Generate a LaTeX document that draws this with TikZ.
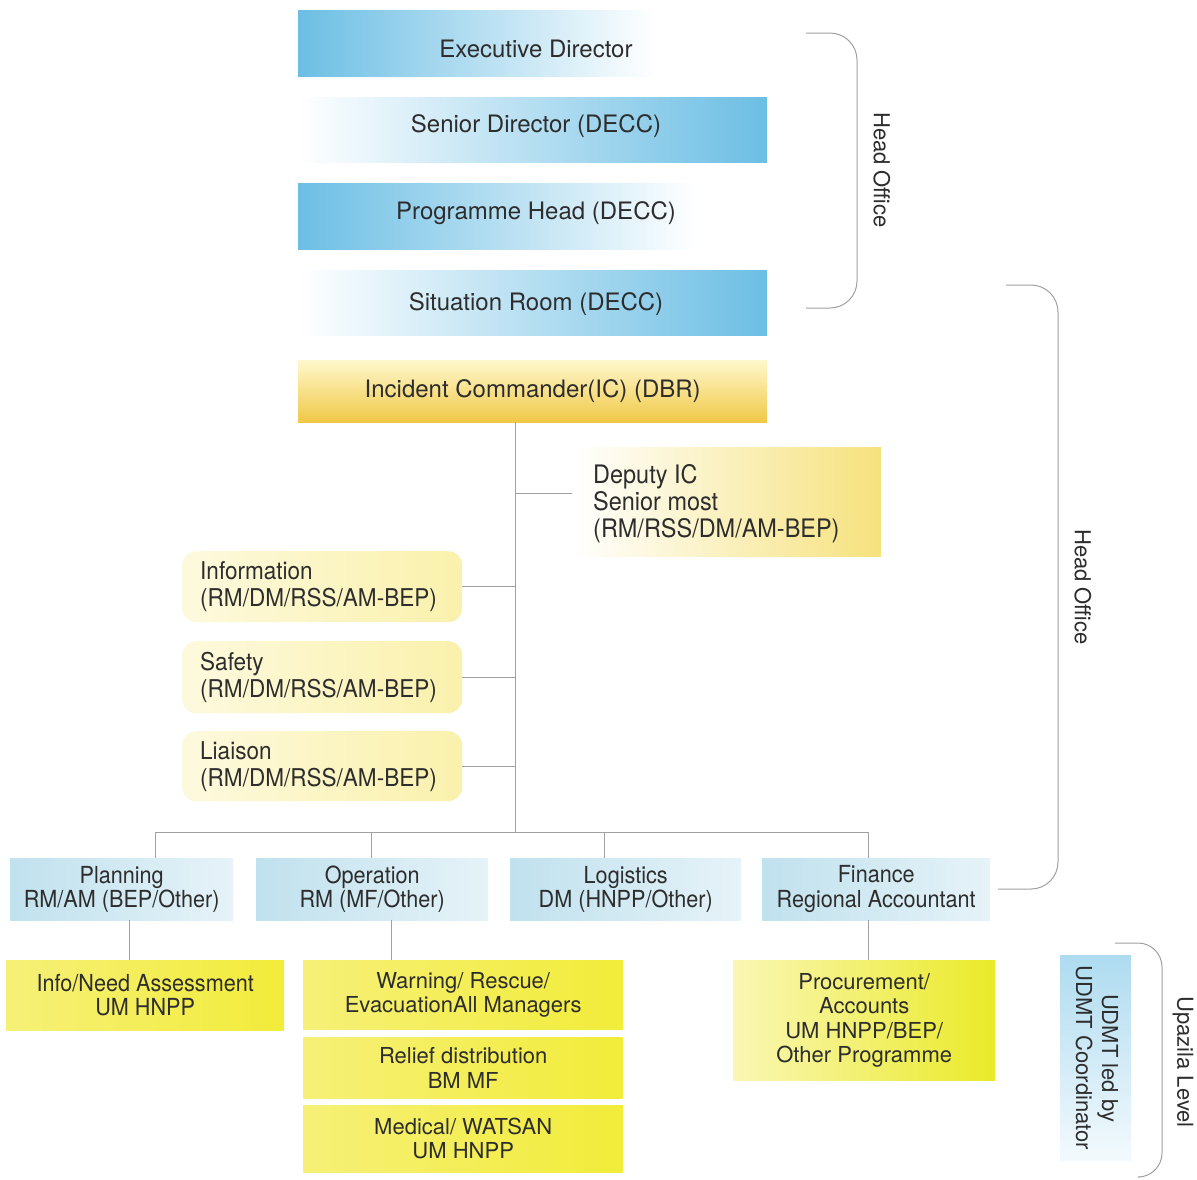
\documentclass[tikz,border=0pt]{standalone}
\usepackage{fontspec}
\setmainfont{TeX Gyre Heros}
\newfontfamily\condf[FakeStretch=0.92]{TeX Gyre Heros}
\definecolor{txt}{RGB}{45,45,45}
\definecolor{hblue}{RGB}{108,190,228}
\definecolor{lblueA}{RGB}{192,225,238}
\definecolor{lblueB}{RGB}{230,243,248}
\definecolor{icTop}{RGB}{255,248,205}
\definecolor{icBot}{RGB}{240,200,70}
\definecolor{depR}{RGB}{246,226,125}
\definecolor{infoY}{RGB}{250,241,172}
\definecolor{brY}{RGB}{242,236,58}
\definecolor{brYl}{RGB}{246,240,120}
\definecolor{procR}{RGB}{234,234,40}
\definecolor{lineg}{RGB}{160,160,160}
\tikzset{
  box/.style={anchor=north west, inner sep=0pt, text=txt, align=center},
  bigtxt/.style={font=\fontsize{24}{27}\selectfont},
  deptxt/.style={font=\condf\fontsize{25.5}{27}\selectfont},
  midtxt/.style={font=\condf\fontsize{24.5}{27}\selectfont},
  lowtxt/.style={font=\condf\fontsize{23.5}{24.5}\selectfont},
  regtxt/.style={font=\fontsize{22}{24.5}\selectfont},
  conn/.style={draw=lineg, line width=0.8pt},
  brk/.style={draw=lineg, line width=1pt, rounded corners=27pt},
  side/.style={text=txt, rotate=-90, font=\fontsize{22}{26}\selectfont, align=center, inner sep=0pt}
}
\begin{document}
\begin{tikzpicture}[x=1pt,y=-1pt]
\useasboundingbox[fill=white] (0,0) rectangle (1197,1179);

% head office boxes
\node[box,minimum width=357pt,minimum height=66pt,left color=hblue,middle color=hblue!25,right color=white] (exec) at (298,10) {};
\node[text=txt,bigtxt] (exect) at (536,49) {Executive Director};
\node[box,minimum width=469pt,minimum height=65pt,left color=white,middle color=hblue!25,right color=hblue] (senior) at (298,97) {};
\node[text=txt,bigtxt] (seniort) at (536,126) {Senior Director (DECC)};
\node[box,minimum width=400pt,minimum height=66pt,left color=hblue,middle color=hblue!25,right color=white] (prog) at (298,183) {};
\node[text=txt,bigtxt] (progt) at (536,213) {Programme Head (DECC)};
\node[box,minimum width=469pt,minimum height=65pt,left color=white,middle color=hblue!25,right color=hblue] (sit) at (298,270) {};
\node[text=txt,bigtxt] (sitt) at (536,304) {Situation Room (DECC)};

% incident commander
\node[box,bigtxt,minimum width=469pt,minimum height=62pt,top color=icTop,bottom color=icBot] (ic) at (298,360) {Incident Commander(IC) (DBR)};

% deputy and staff
\node[box,minimum width=309pt,minimum height=109pt,left color=white,right color=depR] (dep) at (572,447) {};
\node[deptxt,text=txt,align=left,anchor=west,inner sep=0pt] (dept) at (593,504) {Deputy IC\\Senior most\\(RM/RSS/DM/AM-BEP)};
\node[box,midtxt,align=left,minimum width=280pt,minimum height=71pt,text width=244pt,inner xsep=18pt,rounded corners=14pt,left color=infoY!40,right color=infoY] (info) at (182,551) {Information\\(RM/DM/RSS/AM-BEP)};
\node[box,midtxt,align=left,minimum width=280pt,minimum height=72pt,text width=244pt,inner xsep=18pt,rounded corners=14pt,left color=infoY!40,right color=infoY] (safe) at (182,641) {Safety\\(RM/DM/RSS/AM-BEP)};
\node[box,midtxt,align=left,minimum width=280pt,minimum height=70pt,text width=244pt,inner xsep=18pt,rounded corners=14pt,left color=infoY!40,right color=infoY] (liai) at (182,731) {Liaison\\(RM/DM/RSS/AM-BEP)};

% section row
\node[box,lowtxt,minimum width=223pt,minimum height=62pt,left color=lblueA,right color=lblueB] (plan) at (10,858) {Planning\\RM/AM (BEP/Other)};
\node[box,lowtxt,minimum width=232pt,minimum height=62pt,left color=lblueA,right color=lblueB] (oper) at (256,858) {Operation\\RM (MF/Other)};
\node[box,lowtxt,minimum width=231pt,minimum height=62pt,left color=lblueA,right color=lblueB] (logi) at (510,858) {Logistics\\DM (HNPP/Other)};
\node[box,lowtxt,minimum width=228pt,minimum height=62pt,left color=lblueA,right color=lblueB] (fin) at (762,858) {Finance\\Regional Accountant};

% bottom boxes
\node[box,lowtxt,minimum width=278pt,minimum height=70pt,left color=brYl,right color=brY] (need) at (6,960) {Info/Need Assessment\\UM HNPP};
\node[box,regtxt,minimum width=320pt,minimum height=69pt,left color=brYl,right color=brY] (warn) at (303,960) {Warning/ Rescue/\\EvacuationAll Managers};
\node[box,regtxt,minimum width=320pt,minimum height=61pt,left color=brYl,right color=brY] (relief) at (303,1037) {Relief distribution\\BM MF};
\node[box,regtxt,minimum width=320pt,minimum height=67pt,left color=brYl,right color=brY] (med) at (303,1105) {Medical/ WATSAN\\UM HNPP};
\node[box,regtxt,minimum width=262pt,minimum height=120pt,left color=brYl!55,right color=procR] (proc) at (733,960) {Procurement/\\Accounts\\UM HNPP/BEP/\\Other Programme};

% UDMT
\node[box,minimum width=71pt,minimum height=205pt,top color=hblue!55,bottom color=hblue!8] (udmt) at (1060,955) {};
\node[side] (udmtt) at (1097,1058) {UDMT led by\\UDMT Coordinator};

% connectors
\coordinate (bus) at (515,832);
\coordinate (d1) at (155,832);
\coordinate (d2) at (371,832);
\coordinate (d3) at (604,832);
\coordinate (d4) at (868,832);
\coordinate (dj) at (572,493);
\draw[conn] (bus |- ic.south) -- (bus);
\draw[conn] (dj) -- (dj -| bus);
\draw[conn] (info.east) -- (info.east -| bus);
\draw[conn] (safe.east) -- (safe.east -| bus);
\draw[conn] (liai.east) -- (liai.east -| bus);
\draw[conn] (d1) -- (d4);
\draw[conn] (d1) -- (d1 |- plan.north);
\draw[conn] (d2) -- (d2 |- oper.north);
\draw[conn] (d3) -- (d3 |- logi.north);
\draw[conn] (d4) -- (d4 |- fin.north);
\coordinate (e1) at (129,920);
\coordinate (e2) at (391,920);
\coordinate (e3) at (868,920);
\draw[conn] (e1) -- (e1 |- need.north);
\draw[conn] (e2) -- (e2 |- warn.north);
\draw[conn] (e3) -- (e3 |- proc.north);

% brackets
\draw[brk] (806,33) -- (857,33) -- (857,308) -- (806,308);
\node[side] (ho1) at (882,170) {Head Office};
\draw[brk] (1006,285) -- (1058,285) -- (1058,889) -- (998,889);
\node[side] (ho2) at (1083,587) {Head Office};
\draw[brk,rounded corners=24pt] (1115,943) -- (1162,943) -- (1162,1177) -- (1140,1177);
\node[side] (upa) at (1183,1062) {Upazila Level};
\end{tikzpicture}
\end{document}
